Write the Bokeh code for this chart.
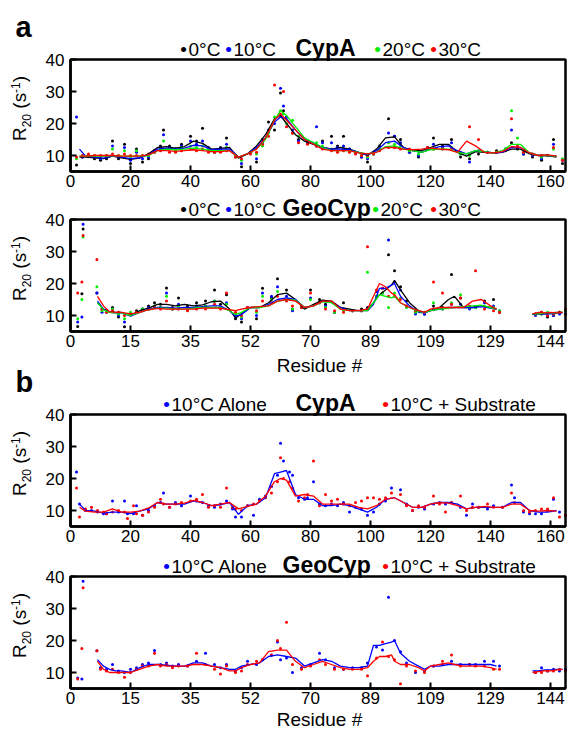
import math
from bokeh.plotting import figure
from bokeh.models import Range1d, FixedTicker, Label, LinearAxis, BoxAnnotation
from bokeh.embed import file_html
from bokeh.resources import INLINE

NAN = float("nan")

# ---------------- tick labels ----------------
X_TICKS = [0, 20, 40, 60, 80, 100, 120, 140, 160]
CYPA_TICK_LABELS = ["0", "20", "40", "60", "80", "100", "120", "140", "160"]
GEO_TICK_LABELS = ["0", "15", "35", "52", "70", "89", "109", "129", "144"]
Y_TICKS = [10, 20, 30, 40]
X_LIMITS = (0, 165)
Y_LIMITS = (5, 40)

# ---------------- panel a : CypA, temperatures ----------------
cypa_line_x = [3, 5, 8, 11, 14, 17, 20, 23, 26, 29,
               32, 35, 38, 41, 44, 47, 50, 53, 56, 59,
               62, 65, 68, 70, 72, 75, 78, 81, 84, 87,
               90, 93, 96, 99, 102, 105, 108, 111, 114, 117,
               120, 123, 126, 129, 132, 135, 138, 141, 144, 147,
               150, 153, 156, 159, 162]
cypa_a_line_0 = [9.5, 9.5, 9.3, 9.0, 9.8, 9.3, 8.8, 9.2, 10.5, 12.5,
                 12.8, 12.3, 12.8, 14.5, 13.8, 12.0, 12.2, 12.5, 9.2, 10.5,
                 13.0, 16.5, 21.5, 22.5, 20.0, 16.5, 14.5, 13.5, 12.5, 12.0,
                 12.5, 12.0, 11.0, 10.0, 12.0, 15.5, 15.8, 12.5, 11.5, 11.5,
                 12.5, 13.5, 13.5, 11.0, 9.8, 11.2, 11.0, 10.8, 11.0, 12.0,
                 12.0, 10.5, 10.0, 10.0, 9.5]
cypa_a_line_10 = [12.0, 9.8, 9.5, 9.2, 9.8, 9.5, 9.0, 9.3, 10.2, 12.0,
                  12.3, 12.0, 12.3, 13.2, 13.0, 11.8, 12.0, 12.0, 9.5, 10.5,
                  12.5, 15.5, 20.5, 22.0, 21.5, 18.0, 15.0, 14.0, 12.5, 12.0,
                  12.0, 11.8, 11.0, 10.2, 11.5, 14.0, 14.5, 12.5, 11.5, 11.0,
                  12.0, 12.8, 13.0, 11.5, 10.5, 11.5, 11.2, 10.8, 11.0, 12.5,
                  12.5, 10.8, 10.0, 10.0, 9.8]
cypa_a_line_20 = [9.8, 9.8, 9.8, 9.8, 10.0, 9.8, 9.8, 9.8, 10.0, 11.5,
                  12.0, 11.8, 12.0, 12.3, 12.0, 11.5, 11.5, 11.5, 9.5, 10.5,
                  12.0, 15.0, 21.0, 24.0, 22.5, 19.0, 15.5, 14.0, 12.5, 11.5,
                  11.5, 11.5, 11.0, 10.5, 11.0, 12.8, 13.0, 12.0, 11.5, 11.0,
                  11.8, 12.0, 12.0, 11.0, 10.5, 11.5, 11.2, 10.8, 11.5, 13.5,
                  13.5, 10.8, 10.0, 10.0, 9.8]
cypa_a_line_30 = [9.8, 9.8, 10.0, 10.0, 10.0, 9.8, 9.8, 9.8, 10.2, 11.5,
                  11.5, 11.3, 11.5, 11.8, 11.5, 11.2, 11.2, 11.5, 9.5, 10.5,
                  12.0, 15.5, 21.0, 23.0, 21.0, 18.0, 15.0, 13.5, 12.0, 11.5,
                  11.5, 11.5, 10.8, 10.5, 11.0, 12.5, 12.5, 12.0, 11.8, 12.0,
                  12.3, 12.0, 11.8, 11.0, 14.5, 13.0, 11.0, 10.8, 11.2, 12.8,
                  12.5, 10.8, 10.0, 10.2, 9.8]

cypa_a_pts_x = [2, 4, 6, 8, 10, 12, 14, 16, 18, 20,
                22, 24, 26, 28, 30, 31, 33, 35, 37, 40,
                42, 44, 46, 48, 50, 52, 55, 57, 60, 62,
                64, 66, 68, 70, 71, 72, 74, 76, 79, 82,
                84, 87, 89, 91, 93, 95, 97, 99, 101, 103,
                106, 108, 110, 113, 116, 119, 121, 124, 127, 130,
                133, 136, 139, 142, 145, 147, 149, 151, 154, 157,
                159, 161, 164]
cypa_a_pts_0 = [7.0, 9.5, 10.0, 9.0, 8.5, 9.0, 14.5, 9.0, 13.5, 7.5,
                12.0, 8.0, 9.0, 11.5, 13.0, 18.0, 13.0, 12.0, 13.5, 16.0,
                14.5, 18.5, 12.0, 11.5, 12.5, 15.5, 9.5, 6.5, 11.0, 8.0,
                15.0, 20.5, 18.0, 29.5, 24.0, 22.0, 17.0, 15.0, 14.0, 13.0,
                14.5, 16.0, 13.0, 16.0, 12.0, 11.0, 9.5, 8.0, 11.0, 13.0,
                21.5, 16.0, 15.0, 11.0, 9.5, 12.5, 15.5, 13.0, 15.0, 9.5,
                9.0, 10.5, 11.0, 11.5, 12.0, 14.0, 12.0, 10.5, 9.5, 8.5,
                10.0, 15.0, 7.5]
cypa_a_pts_10 = [22.0, 9.5, 10.0, 9.5, 9.0, 9.5, 13.0, 9.5, 12.5, 8.5,
                 11.0, 9.0, 9.5, 11.5, 12.5, 16.5, 12.5, 12.0, 13.0, 14.5,
                 13.5, 14.5, 12.5, 11.0, 12.0, 13.5, 10.0, 7.5, 11.0, 9.0,
                 14.0, 18.0, 20.0, 31.0, 25.5, 22.0, 18.0, 14.5, 14.0, 19.0,
                 14.0, 14.0, 12.5, 13.0, 12.0, 11.0, 9.5, 9.0, 10.5, 12.0,
                 17.0, 16.0, 14.0, 11.0, 10.0, 12.0, 13.5, 12.5, 14.0, 10.5,
                 8.0, 11.5, 11.0, 11.0, 12.0, 18.0, 12.5, 10.5, 10.0, 9.0,
                 10.0, 13.5, 8.5]
cypa_a_pts_20 = [9.0, 10.0, 10.0, 10.0, 9.5, 10.0, 12.0, 10.0, 11.5, 9.5,
                 11.5, 10.0, 10.0, 11.0, 12.0, 14.5, 12.0, 11.5, 12.5, 13.0,
                 12.5, 13.0, 12.0, 11.0, 11.5, 12.5, 10.0, 8.5, 11.0, 10.5,
                 13.0, 17.0, 22.0, 24.0, 23.0, 20.0, 21.0, 16.0, 14.5, 14.0,
                 13.0, 12.0, 11.5, 12.0, 11.5, 11.0, 10.0, 9.5, 10.5, 12.0,
                 14.0, 13.5, 13.0, 11.5, 10.5, 12.0, 12.0, 12.0, 12.5, 10.5,
                 10.0, 11.5, 11.0, 11.0, 12.0, 24.0, 15.5, 11.0, 10.5, 9.5,
                 10.0, 12.0, 9.0]
cypa_a_pts_30 = [9.5, 10.0, 10.5, 10.0, 10.0, 10.0, 10.5, 10.0, 10.5, 10.0,
                 10.0, 10.0, 10.5, 11.0, 11.5, 12.0, 11.0, 11.0, 11.5, 12.0,
                 11.5, 12.0, 11.0, 11.0, 11.0, 11.5, 9.5, 9.0, 10.5, 11.0,
                 13.5, 16.0, 32.0, 23.0, 30.0, 19.0, 17.0, 14.0, 13.5, 13.0,
                 12.0, 11.5, 11.0, 11.5, 11.0, 10.5, 10.0, 10.0, 10.5, 11.5,
                 12.5, 12.5, 12.0, 12.0, 11.5, 12.5, 12.0, 12.0, 12.0, 11.0,
                 19.0, 15.0, 11.0, 11.0, 11.5, 21.5, 13.0, 11.0, 10.5, 10.0,
                 10.0, 12.5, 8.5]

# ---------------- panel a : GeoCyp, temperatures (aligned positions) ----------------
geo_line_x = [9, 11, 13, 15, 17, 20, 23, 26, 29, 32,
              35, 38, 41, 44, 47, 50, 53, 55, 57, 60,
              63, 66, 69, 72, 75, 78, 81, 84, 87, 90,
              93, 96, 99, 101, 103, 105, 107, 108, 110, 113,
              116, 118, 120, 123, 126, 128, 131, 134, 137, 140,
              142, 148, 154, 156, 158, 160, 162, 164]
geo_a_line_0 = [14, 12, 11.2, 11, 11, 10, 11.5, 12.3, 13.5, 13.5,
                13, 13.5, 13, 13.3, 14.3, 14.5, 12, 9.2, 10.5, 12.5,
                12.5, 14, 16.5, 17, 15, 12, 13.5, 14.8, 14.5, 12.5,
                12, 11.5, 12, 14, 16.5, 18, 19.5, 21, 18, 14,
                11.5, 11, 11.5, 12.5, 15, 16, 12.5, 12.5, 13, 12.5,
                12, NAN, 10.5, 10.5, 10.5, 10.8, 11, 11]
geo_a_line_10 = [14.5, 12, 11, 10.8, 10.8, 9.8, 11, 12, 12.5, 12.5,
                 12.3, 12.5, 12.5, 12.8, 13, 13, 11.5, 9.8, 10.3, 12.5,
                 12.5, 13.5, 15, 15.5, 15, 12.5, 13, 14.5, 14, 12.5,
                 11.5, 11.5, 11.5, 13.5, 18.5, 18.5, 19.5, 20, 16, 13,
                 11, 10.8, 11.5, 12, 12.5, 12.5, 12.5, 12.5, 12.8, 12.3,
                 12, NAN, 10.3, 10.5, 10.5, 10.5, 10.7, 10.8]
geo_a_line_20 = [14, 11.8, 11, 10.8, 10.8, 10, 11, 11.8, 12.3, 12.3,
                 12, 12, 12.3, 12.5, 12.5, 12.5, 11.5, 10.3, 11, 12.5,
                 12.5, 13, 14.5, 15, 14.8, 12.5, 13, 14.3, 14, 12,
                 11.5, 11.5, 11.5, 14, 16.5, 16, 15.5, 16, 14, 12.5,
                 11.2, 11, 11.5, 12, 12.3, 12.5, 12.8, 13, 13.2, 12.5,
                 12, NAN, 10.5, 10.5, 10.8, 10.8, 10.8, 11]
geo_a_line_30 = [16, 13, 11.2, 11, 11, 10.5, 11, 11.8, 12.2, 12,
                 12, 12, 12, 12.3, 12.3, 12.3, 11.8, 11.5, 12, 12.5,
                 12.8, 13, 14.5, 15, 14.5, 12.5, 13, 14.5, 14.5, 12,
                 11.5, 11.5, 12, 16, 20, 19, 17, 16.5, 14, 12.5,
                 11.5, 11, 12, 12.5, 12.5, 12.5, 12.5, 14.5, 15, 13,
                 12, NAN, 10.5, 11, 10.8, 11, 10.8, 11]

geo_a_pts_x = [2.4, 3.8, 4.2, 8.8, 10.5, 12, 14, 16, 18, 20,
               22, 24, 26, 28, 30, 32, 34, 36, 39, 42,
               45, 48, 50, 52, 55, 57, 59, 62, 64, 67,
               69, 72, 74, 77, 80, 83, 85, 88, 91, 94,
               97, 99, 102, 104, 106, 108, 110, 112, 115, 118,
               121, 124, 127, 130, 133, 135, 138, 141, 143, 155,
               157, 159, 161, 163, 165]
geo_a_pts_0 = [6.6, 16.8, 37.0, 17.0, 12.0, 11.5, 12.5, 9.5, 6.5, 10.5,
               11.5, 12.0, 13.0, 14.0, 13.5, 18.6, 12.5, 15.5, 13.0, 14.0,
               14.5, 18.0, 13.5, 16.5, 9.0, 8.0, 12.5, 9.0, 18.5, 15.5,
               21.5, 18.0, 12.0, 13.0, 18.0, 15.0, 13.5, 11.0, 14.0, 11.5,
               12.0, 12.5, 16.0, 17.0, 29.0, 24.0, 19.0, 14.5, 11.0, 10.5,
               13.0, 12.5, 22.8, 15.5, 12.5, 12.5, 14.5, 15.0, 11.0, 10.5,
               11.0, 9.5, 10.0, 11.0, 10.5]
geo_a_pts_10 = [8.0, 9.5, 38.5, 17.0, 11.0, 11.0, 12.0, 10.0, 8.0, 10.5,
                11.0, 12.0, 12.5, 13.0, 12.5, 17.0, 12.0, 13.5, 12.0, 13.0,
                13.0, 14.5, 12.5, 14.0, 10.0, 9.0, 12.5, 10.0, 17.0, 16.0,
                19.0, 16.0, 11.5, 12.5, 15.5, 14.0, 13.0, 11.0, 12.0, 11.5,
                11.5, 12.0, 17.5, 18.5, 33.6, 20.5, 18.0, 13.0, 10.5, 10.5,
                12.0, 12.0, 13.5, 13.5, 12.0, 12.5, 14.0, 13.0, 11.5, 10.0,
                10.5, 10.0, 10.0, 10.5, 11.5]
geo_a_pts_20 = [9.0, 15.0, 34.5, 19.0, 11.5, 11.0, 12.0, 10.5, 9.0, 11.0,
                11.0, 12.0, 12.0, 13.0, 12.5, 16.0, 12.0, 13.0, 12.0, 12.5,
                13.0, 14.5, 12.5, 13.5, 10.5, 9.5, 12.0, 11.0, 16.0, 15.0,
                17.5, 15.0, 12.0, 12.5, 15.0, 14.0, 12.5, 11.0, 11.5, 11.5,
                11.5, 23.5, 16.0, 17.0, 12.5, 17.0, 15.5, 12.5, 11.0, 11.0,
                14.0, 12.0, 14.0, 16.5, 12.5, 12.5, 13.0, 12.5, 11.5, 10.5,
                10.5, 11.0, 10.5, 11.0, 11.5]
geo_a_pts_30 = [17.0, 20.5, 35.0, 27.5, 12.0, 11.0, 11.5, 11.0, 10.0, 10.5,
                11.0, 11.5, 12.0, 12.5, 12.0, 14.5, 12.0, 12.0, 11.5, 12.0,
                12.0, 13.5, 12.0, 17.0, 11.0, 10.0, 12.5, 11.5, 14.5, 14.0,
                16.0, 14.5, 13.0, 12.5, 17.0, 14.0, 12.0, 11.5, 11.0, 11.5,
                11.5, 31.5, 18.0, 18.5, 16.0, 16.0, 15.0, 13.0, 11.5, 11.0,
                20.5, 17.0, 13.5, 15.5, 13.0, 24.0, 12.0, 11.5, 11.0, 10.5,
                11.0, 10.0, 10.5, 11.0, 12.0]

# ---------------- panel b : CypA alone / + substrate ----------------
cypa_b_line_alone = [12, 10, 9.8, 9.2, 9.5, 9.5, 9.0, 9.8, 10.5, 12.5,
                     12, 12, 12, 13, 12.5, 11.5, 11.8, 12.5, 8.8, 11.5,
                     12, 14, 21.5, 22, 22.5, 15, 13.5, 13.5, 11.5, 11.5,
                     12, 11.5, 10.5, 9.5, 11, 13.5, 14, 12.5, 11, 11,
                     12, 12.5, 12.5, 12, 10.5, 11, 11, 11, 11, 12.5,
                     12.5, 10, 9.5, 9.5, 10]
cypa_b_line_sub = [11, 9.8, 9.5, 9.5, 10.5, 9.5, 9.5, 9.8, 10.8, 12.5,
                   12, 12, 12.3, 13.2, 12.5, 11.5, 12, 12.5, 10.5, 11.3,
                   12, 14.5, 19, 20, 19.5, 14.5, 15, 14.5, 12, 12,
                   12, 12, 11, 10.5, 11.5, 13.5, 14, 12.5, 11, 11,
                   12, 12.5, 12.3, 11.5, 10.5, 11, 11.3, 11, 11, 12,
                   12, 10, 9.8, 10, 9.8]

cypa_b_pts_x = [2, 3, 5, 7, 9, 11, 12, 14, 16, 18,
                19, 21, 22, 24, 26, 28, 30, 31, 33, 35,
                37, 40, 42, 44, 46, 48, 50, 52, 54, 55,
                57, 59, 61, 63, 65, 67, 69, 70, 71, 73,
                74, 76, 78, 79, 81, 83, 85, 87, 89, 91,
                93, 95, 97, 99, 101, 103, 105, 107, 110, 112,
                114, 116, 118, 121, 123, 125, 127, 130, 132, 134,
                136, 139, 141, 144, 147, 148, 151, 153, 155, 157,
                159, 161, 163, 165]
cypa_b_pts_alone = [22.0, 12.0, 10.0, 10.0, 9.5, 9.0, 9.0, 13.0, 9.5, 13.0,
                    9.0, 9.0, 11.5, 8.5, 10.0, 11.5, 12.5, 15.5, 11.0, 12.5,
                    11.5, 14.5, 13.0, 12.5, 11.5, 11.0, 12.0, 13.0, 10.5, 8.0,
                    8.0, 11.5, 8.5, 13.5, 14.5, 17.5, 21.0, 31.0, 25.5, 22.0,
                    21.0, 14.0, 13.5, 14.0, 19.0, 12.0, 11.5, 12.0, 11.5, 12.5,
                    9.5, 11.0, 10.5, 8.5, 9.5, 12.0, 13.0, 17.0, 16.5, 12.0,
                    10.0, 11.0, 10.5, 12.0, 12.5, 12.0, 12.5, 11.0, 8.5, 12.0,
                    11.0, 10.5, 11.5, 11.0, 18.0, 14.0, 9.5, 9.0, 9.0, 9.0,
                    10.0, 13.5, 9.5, 8.5]
cypa_b_pts_sub = [17.0, 8.0, 10.5, 11.0, 10.0, 9.5, 9.0, 9.5, 10.0, 9.5,
                  7.5, 11.5, 9.0, 8.5, 9.5, 11.0, 13.5, 12.0, 11.0, 12.0,
                  12.5, 13.0, 13.5, 15.0, 11.0, 11.5, 11.0, 17.0, 11.0, 10.5,
                  10.0, 11.5, 12.0, 13.0, 14.0, 15.5, 19.0, 26.5, 20.0, 19.0,
                  17.0, 13.0, 14.0, 15.0, 25.5, 11.5, 15.0, 13.0, 13.5, 12.0,
                  11.5, 12.5, 13.0, 14.0, 14.0, 13.5, 14.0, 15.5, 15.0, 11.5,
                  10.0, 11.5, 11.0, 14.5, 12.0, 9.5, 12.5, 14.5, 10.0, 11.0,
                  11.0, 12.0, 11.0, 11.0, 15.5, 12.5, 10.0, 9.5, 10.0, 10.5,
                  10.5, 14.0, 8.0, 8.5]

# ---------------- panel b : GeoCyp alone / + substrate ----------------
geo_b_line_alone = [14, 12, 11, 10.5, 10.5, 10, 11.5, 12.5, 12.5, 12.3,
                    12, 12, 13, 13, 12, 11.5, 11, 11, 12, 12.5,
                    13, 15, 15.5, 15, 14.5, 12, 13, 14, 13.5, 12,
                    11.5, 11.5, 12, 18.5, 18.5, 19, 19.5, 20, 16, 13.5,
                    12, 11, 12, 12, 12.5, 12.5, 12.5, 12.5, 12.5, 12.5,
                    12, NAN, 10.5, 10.5, 10.8, 10.8, 11, 11]
geo_b_line_sub = [13.5, 11, 10, 10, 10, 10, 11, 12, 12.5, 12,
                  12, 12, 12.5, 12.5, 12, 11.5, 10.5, 10.5, 11.5, 12.5,
                  13, 16.5, 17, 17, 13.5, 11.5, 12.5, 13.5, 12.5, 11.5,
                  11, 11, 11.5, 13.5, 15, 15, 15.5, 13.5, 12.5, 12.5,
                  11.5, 10.5, 12, 12.5, 13, 12.5, 12, 12, 12, 11.5,
                  11, NAN, 10, 10.3, 10.5, 10.5, 10.8, 11]

geo_b_pts_x = [2.4, 3.8, 4.2, 8.8, 10, 12, 14, 16, 18, 20,
               22, 24, 26, 28, 30, 32, 34, 36, 39, 42,
               45, 48, 50, 52, 55, 57, 59, 62, 64, 67,
               69, 70, 72, 74, 77, 80, 83, 85, 88, 91,
               94, 97, 99, 102, 104, 106, 108, 110, 112, 115,
               118, 121, 124, 127, 130, 133, 135, 138, 141, 143,
               155, 157, 159, 161, 163, 165]
geo_b_pts_alone = [8.3, 8.0, 38.5, 16.8, 11.5, 11.0, 12.5, 10.5, 10.0, 11.0,
                   11.5, 12.5, 13.0, 16.9, 12.5, 13.0, 12.0, 12.5, 12.0, 13.5,
                   16.0, 12.5, 11.5, 12.5, 10.5, 11.5, 13.5, 12.5, 14.0, 15.5,
                   19.5, 14.0, 14.5, 10.0, 11.5, 12.5, 16.0, 14.0, 11.5, 11.0,
                   11.5, 11.5, 13.0, 18.0, 17.0, 33.5, 20.0, 16.5, 13.0, 10.0,
                   10.5, 12.0, 12.5, 13.5, 12.5, 12.5, 12.5, 13.5, 13.5, 12.0,
                   10.0, 11.5, 10.5, 11.0, 10.5, 11.0]
geo_b_pts_sub = [8.0, 17.5, 36.5, 16.8, 11.0, 10.5, 11.0, 10.0, 8.5, 10.0,
                 11.0, 12.0, 12.0, 16.0, 12.0, 12.5, 11.5, 12.0, 12.0, 16.0,
                 12.5, 11.0, 9.5, 12.0, 10.0, 10.5, 12.5, 13.5, 14.0, 15.5,
                 20.0, 17.5, 25.7, 12.5, 11.0, 12.0, 14.0, 12.5, 11.0, 11.0,
                 11.0, 11.0, 9.0, 14.5, 19.5, 15.0, 14.0, 6.5, 12.0, 10.5,
                 10.0, 12.0, 13.5, 15.5, 12.0, 12.5, 12.0, 12.0, 11.0, 11.0,
                 10.0, 10.0, 10.5, 10.5, 11.0, 10.5]

BLACK, BLUE, GREEN, RED = "#000000", "#0000ff", "#00ee00", "#ff0000"
FONT = "Liberation Sans"

PAGE_W, PAGE_H = 571, 732
FRAME_LEFT = 70      # page px where residue 0 sits
PX_PER_X = 3.0
PX_PER_Y = 3.2
BASELINE_FIX = 0.40  # Label text renders ~0.4 em below the requested baseline

PANEL_TOPS = {"a1": 59, "a2": 219, "b1": 414, "b2": 576}   # page row of value 40

p = figure(width=PAGE_W, height=PAGE_H,
           x_range=Range1d(-FRAME_LEFT / PX_PER_X, (PAGE_W - FRAME_LEFT) / PX_PER_X),
           y_range=Range1d(PAGE_H, 0),
           output_backend="svg", toolbar_location=None, title=None,
           x_axis_location=None, y_axis_location=None, min_border=0)
p.background_fill_color = "white"
p.border_fill_color = "white"
p.outline_line_color = None
p.xgrid.visible = False
p.ygrid.visible = False
p.extra_x_ranges = {"px": Range1d(0, PAGE_W)}
p.extra_y_ranges = {name: Range1d(40 - (PAGE_H - top) / PX_PER_Y, 40 + top / PX_PER_Y)
                    for name, top in PANEL_TOPS.items()}


def panel_axes(name, tick_labels):
    xax = LinearAxis(y_range_name=name, fixed_location=Y_LIMITS[0], bounds=X_LIMITS,
                     ticker=FixedTicker(ticks=X_TICKS),
                     major_label_overrides={t: l for t, l in zip(X_TICKS, tick_labels)})
    yax = LinearAxis(y_range_name=name, fixed_location=X_LIMITS[0], bounds=Y_LIMITS,
                     ticker=FixedTicker(ticks=Y_TICKS))
    for ax in (xax, yax):
        ax.axis_line_width = 2.5
        ax.axis_line_color = "black"
        ax.major_tick_in = 6
        ax.major_tick_out = 0
        ax.major_tick_line_width = 2
        ax.minor_tick_line_color = None
        ax.major_label_text_font = FONT
        ax.major_label_text_font_size = "17px"
        ax.major_label_text_color = "black"
    xax.major_label_standoff = 3
    yax.major_label_standoff = 6
    p.add_layout(xax, "below")
    p.add_layout(yax, "left")
    p.add_layout(BoxAnnotation(y_range_name=name,
                               left=X_LIMITS[0], right=X_LIMITS[1],
                               bottom=Y_LIMITS[0], top=Y_LIMITS[1],
                               fill_color=None, fill_alpha=0,
                               line_color="black", line_alpha=1.0, line_width=2.5))


def label(px, py, text, size, color="black", bold=False, align="left", rotated=False):
    shift = BASELINE_FIX * size
    if rotated:
        px -= shift
    else:
        py -= shift
    p.add_layout(Label(x=px, y=py, x_range_name="px", text=text, text_font=FONT,
                       text_font_size=f"{size}px", text_color=color,
                       text_font_style="bold" if bold else "normal",
                       text_align=align, text_baseline="alphabetic",
                       angle=math.pi / 2 if rotated else 0.0))


def y_label(top):
    y0 = top + 81.5
    label(27, y0, "R", 19, rotated=True)
    label(30.5, y0 - 13.7, "20", 12, rotated=True)
    label(27, y0 - 32.3, "(s", 19, rotated=True)
    label(19.5, y0 - 48.1, "-1", 12, rotated=True)
    label(27, y0 - 58.8, ")", 19, rotated=True)


def legend_item(top, px, text, color):
    base = top - 2.5
    label(px - 5, base, "\u2022", 19, color=color, align="center")
    label(px, base, text, 19)


def draw(name, pts_x, pts_list, line_x, lines_list, colors):
    for ys, c in zip(pts_list, colors):
        assert len(ys) == len(pts_x)
        p.scatter(pts_x, ys, size=3, color=c, line_width=0, y_range_name=name)
    for ys, c in zip(lines_list, colors):
        assert len(ys) == len(line_x)
        p.line(line_x, ys, color=c, line_width=1.3, y_range_name=name)


# ---- panel a, CypA temperatures ----
T = PANEL_TOPS["a1"]
panel_axes("a1", CYPA_TICK_LABELS)
draw("a1", cypa_a_pts_x, [cypa_a_pts_0, cypa_a_pts_10, cypa_a_pts_20, cypa_a_pts_30],
     cypa_line_x, [cypa_a_line_0, cypa_a_line_10, cypa_a_line_20, cypa_a_line_30],
     [BLACK, BLUE, GREEN, RED])
y_label(T)
label(15, 38, "a", 29, bold=True)
legend_item(T, 188, "0\u00b0C", BLACK)
legend_item(T, 233, "10\u00b0C", BLUE)
label(295, T - 2.5, "CypA", 23, bold=True)
legend_item(T, 382, "20\u00b0C", GREEN)
legend_item(T, 438, "30\u00b0C", RED)

# ---- panel a, GeoCyp temperatures ----
T = PANEL_TOPS["a2"]
panel_axes("a2", GEO_TICK_LABELS)
draw("a2", geo_a_pts_x, [geo_a_pts_0, geo_a_pts_10, geo_a_pts_20, geo_a_pts_30],
     geo_line_x, [geo_a_line_0, geo_a_line_10, geo_a_line_20, geo_a_line_30],
     [BLACK, BLUE, GREEN, RED])
y_label(T)
legend_item(T, 188, "0\u00b0C", BLACK)
legend_item(T, 233, "10\u00b0C", BLUE)
label(282, T - 2.5, "GeoCyp", 23, bold=True)
legend_item(T, 380, "20\u00b0C", GREEN)
legend_item(T, 438, "30\u00b0C", RED)
label(319, 373, "Residue #", 19, align="center")

# ---- panel b, CypA substrate ----
T = PANEL_TOPS["b1"]
panel_axes("b1", CYPA_TICK_LABELS)
draw("b1", cypa_b_pts_x, [cypa_b_pts_alone, cypa_b_pts_sub],
     cypa_line_x, [cypa_b_line_alone, cypa_b_line_sub], [BLUE, RED])
y_label(T)
label(15, 393, "b", 29, bold=True)
legend_item(T, 171, "10\u00b0C Alone", BLUE)
label(295, T - 2.5, "CypA", 23, bold=True)
legend_item(T, 390, "10\u00b0C + Substrate", RED)

# ---- panel b, GeoCyp substrate ----
T = PANEL_TOPS["b2"]
panel_axes("b2", GEO_TICK_LABELS)
draw("b2", geo_b_pts_x, [geo_b_pts_alone, geo_b_pts_sub],
     geo_line_x, [geo_b_line_alone, geo_b_line_sub], [BLUE, RED])
y_label(T)
legend_item(T, 171, "10\u00b0C Alone", BLUE)
label(282, T - 2.5, "GeoCyp", 23, bold=True)
legend_item(T, 390, "10\u00b0C + Substrate", RED)
label(319, 727, "Residue #", 19, align="center")

open("out.html", "w").write(file_html(p, INLINE))
